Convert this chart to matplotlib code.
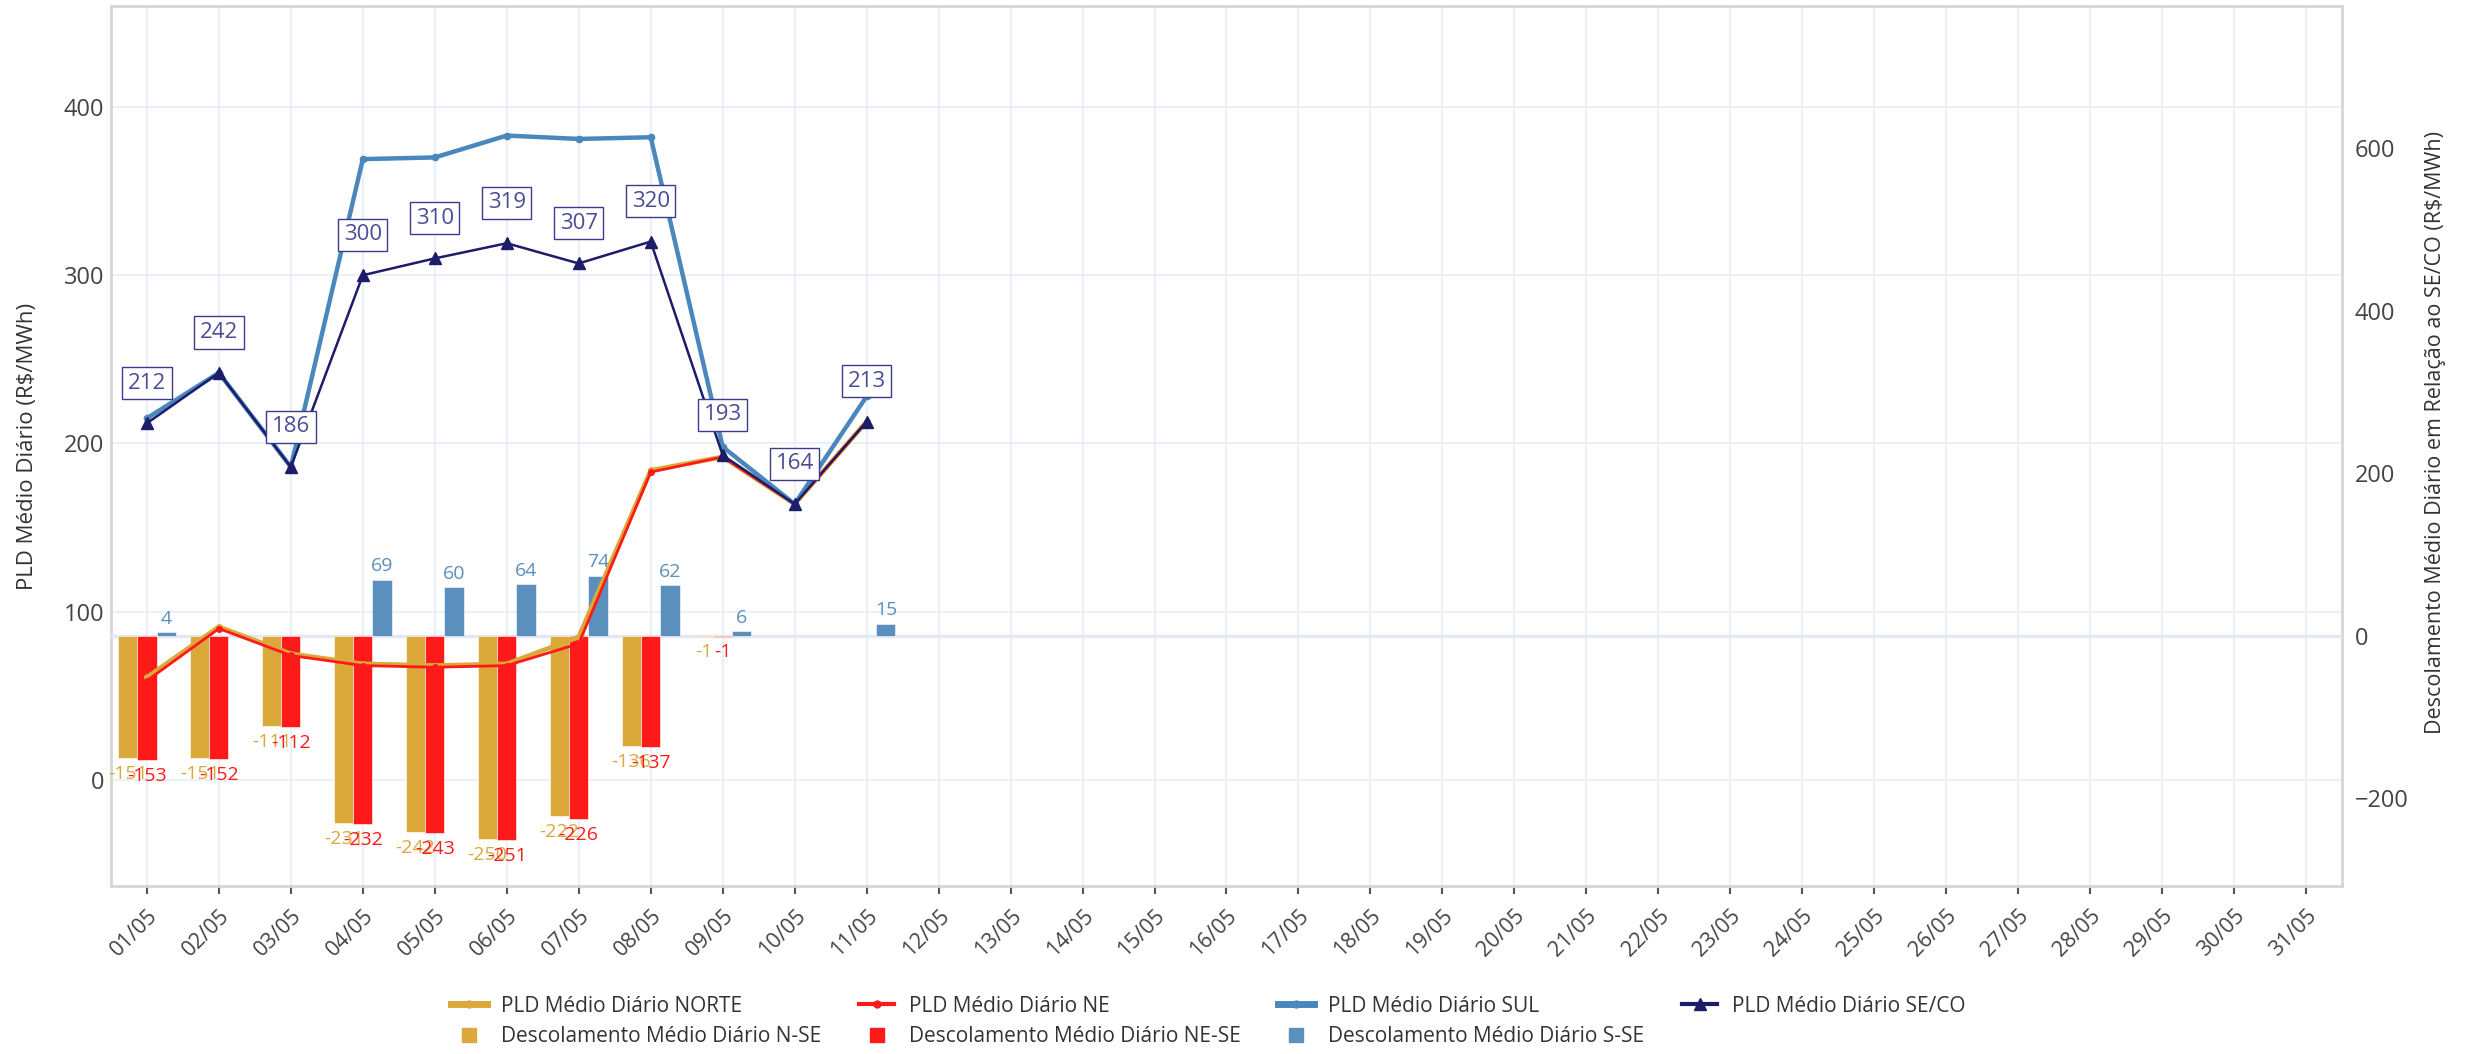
import numpy as np
import matplotlib.pyplot as plt
from matplotlib.lines import Line2D

plt.rcParams['font.family'] = ['Open Sans', 'DejaVu Sans']

# eixo x: dias de maio
dias = ['%02d/05' % d for d in range(1, 32)]

# PLD medio diario (R$/MWh) - dias com dado
pld_norte = [61, 91, 75, 69, 68, 69, 85, 184, 192, 164, 213]
pld_ne = [59, 90, 74, 68, 67, 68, 81, 183, 192, 164, 213]
pld_sul = [215, 242, 186, 369, 370, 383, 381, 382, 198, 164, 228]
pld_seco = [212, 242, 186, 300, 310, 319, 307, 320, 193, 164, 213]

# descolamento em relacao ao SE/CO (R$/MWh)
desc_n_se = [-151, -151, -111, -231, -242, -250, -222, -136, -1, np.nan, np.nan]
desc_ne_se = [-153, -152, -112, -232, -243, -251, -226, -137, -1, np.nan, np.nan]
desc_s_se = [4, np.nan, np.nan, 69, 60, 64, 74, 62, 6, np.nan, 15]

c_norte = '#DAA93A'
c_ne = '#FF1A1A'
c_sul = '#4A87BD'
c_sseb = '#5A8FBE'
c_seco = '#1C1C6B'
grid_c = '#EBF0F8'
txt_c = '#444444'

x = np.arange(len(pld_seco))
w = 0.8 / 3

fig = plt.figure(figsize=(24.76, 10.54), dpi=100)
ax = fig.add_axes([0.0448, 0.1594, 0.9011, 0.8349])
ax_bar = ax.twinx()
ax_lin = fig.add_axes(ax.get_position(), sharex=ax, sharey=ax)
ax_lin.set_zorder(5)
ax_lin.patch.set_visible(False)
ax_lin.axis('off')

# eixo esquerdo (grade e ticks)
ax.set_xlim(-0.5, 30.5)
ax.set_ylim(-63, 460)
ax.set_xticks(range(len(dias)))
ax.set_xticklabels(dias, rotation=45, ha='right', rotation_mode='anchor', fontsize=15.5, color=txt_c)
ax.set_yticks([0, 100, 200, 300, 400])
ax.tick_params(axis='y', length=0, labelsize=17, labelcolor=txt_c, pad=5)
ax.tick_params(axis='x', direction='out', length=6, width=1.5, color='#555555', pad=8)
ax.grid(True, color=grid_c, lw=1.5)
ax.set_axisbelow(True)
for s in ax.spines.values():
    s.set_color('#D6D6D6')
    s.set_linewidth(2)

# eixo direito (barras)
ax_bar.set_ylim(-308, 775)
ax_bar.set_yticks([-200, 0, 200, 400, 600])
ax_bar.tick_params(axis='y', length=0, labelsize=17, labelcolor=txt_c, pad=9)
for s in ax_bar.spines.values():
    s.set_visible(False)
ax_bar.axhline(0, color='#E3E8F1', lw=2.5, zorder=0)

bars = [(desc_n_se, -w, c_norte), (desc_ne_se, 0, c_ne), (desc_s_se, w, c_sseb)]
for vals, off, col in bars:
    ax_bar.bar(x + off, vals, w, color=col, edgecolor='white', linewidth=0.4, zorder=2)
    for xi, v in zip(x, vals):
        if np.isnan(v):
            continue
        if v < 0:
            ax_bar.annotate(f'{v:.0f}', (xi + off, v), xytext=(0, -5), textcoords='offset points',
                            ha='center', va='top', fontsize=14, color=col, zorder=3)
        else:
            ax_bar.annotate(f'{v:.0f}', (xi + off, v), xytext=(0, 3), textcoords='offset points',
                            ha='center', va='bottom', fontsize=14, color=col, zorder=3)

# linhas de PLD
ax_lin.plot(x, pld_norte, color=c_norte, lw=3.4, marker='o', ms=4)
ax_lin.plot(x, pld_ne, color=c_ne, lw=2, marker='o', ms=4)
ax_lin.plot(x, pld_sul, color=c_sul, lw=3.2, marker='o', ms=4.5)
ax_lin.plot(x, pld_seco, color=c_seco, lw=1.8, marker='^', ms=8)
for xi, v in zip(x, pld_seco):
    ax_lin.annotate(str(v), (xi, v), xytext=(0, 29), textcoords='offset points',
                    ha='center', va='center', fontsize=16, color='#4B4B96',
                    bbox=dict(boxstyle='square,pad=0.25', fc='white', ec='#3B3B8A', lw=1))

fig.text(28 / 2476, 1 - 446 / 1054, 'PLD Médio Diário (R$/MWh)', rotation=90,
         ha='center', va='center', fontsize=16, color='#333333')
fig.text(2435 / 2476, 1 - 432 / 1054, 'Descolamento Médio Diário em Relação ao SE/CO (R$/MWh)',
         rotation=90, ha='center', va='center', fontsize=15.5, color='#333333')

# legenda (ordem por coluna para ficar 4 linhas em cima e 3 barras em baixo)
h_norte = Line2D([], [], color=c_norte, lw=5, marker='o', ms=5)
h_ne = Line2D([], [], color=c_ne, lw=3, marker='o', ms=5)
h_sul = Line2D([], [], color=c_sul, lw=5, marker='o', ms=5)
h_seco = Line2D([], [], color=c_seco, lw=3, marker='^', ms=9)
b_n = Line2D([], [], color=c_norte, ls='', marker='s', ms=10)
b_ne = Line2D([], [], color=c_ne, ls='', marker='s', ms=10)
b_s = Line2D([], [], color=c_sseb, ls='', marker='s', ms=10)
handles = [h_norte, b_n, h_ne, b_ne, h_sul, b_s, h_seco]
labels = ['PLD Médio Diário NORTE', 'Descolamento Médio Diário N-SE',
          'PLD Médio Diário NE', 'Descolamento Médio Diário NE-SE',
          'PLD Médio Diário SUL', 'Descolamento Médio Diário S-SE',
          'PLD Médio Diário SE/CO']
leg = fig.legend(handles, labels, loc='center', bbox_to_anchor=(0.488, 0.031), ncol=4,
                 frameon=False, fontsize=15, handlelength=1.7, handletextpad=0.7,
                 columnspacing=1.8, labelspacing=0.45)
for t in leg.get_texts():
    t.set_color('#333333')

plt.savefig('out.png', dpi=100, facecolor='white')
